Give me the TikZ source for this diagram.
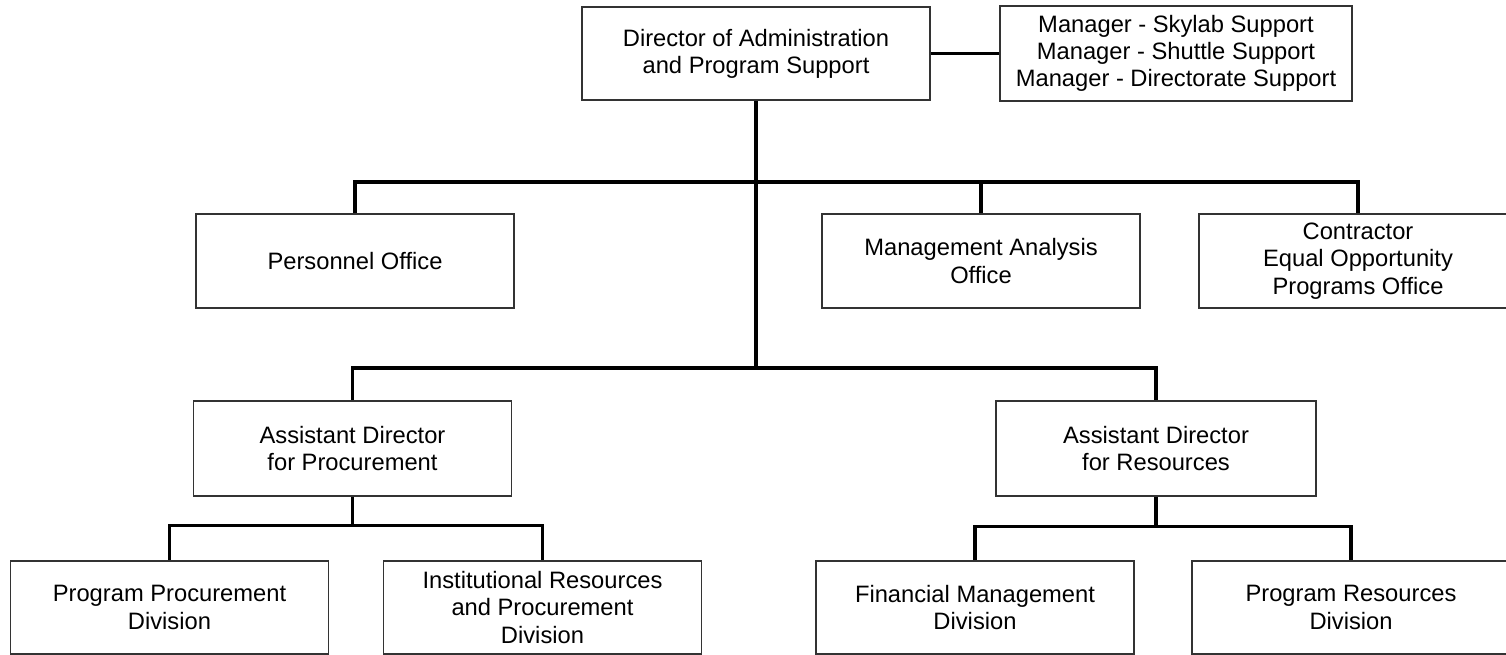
\documentclass[tikz,border=0pt]{standalone}
\usepackage{fontspec}
\setsansfont{Liberation Sans}
\usepackage{tikz}
\usetikzlibrary{positioning,calc}

\begin{document}
\begin{tikzpicture}[
  x=0.02cm, y=-0.02cm,
  font=\sffamily\fontsize{13.5}{15.5}\selectfont,
  unit/.style={draw=black!80, line width=1pt, fill=white, align=center,
               minimum width=6.36cm, minimum height=1.88cm, inner sep=4pt},
  link/.style={draw=black, line width=1.8pt},
]
  \useasboundingbox (0,0) rectangle (1506,655);

  % top level
  \node[unit, minimum width=6.96cm, minimum height=1.86cm] (dir) at (756,53.5)
    {Director of Administration\\and Program Support};
  \node[unit, minimum width=7.04cm, minimum height=1.9cm] (mgr) at (1176,53.5)
    {Manager - Skylab Support\\Manager - Shuttle Support\\Manager - Directorate Support};

  % staff offices
  \node[unit] (pers) at (355,261)  {Personnel Office};
  \node[unit] (mao)  at (981,261)  {Management Analysis\\Office};
  \node[unit] (ceo)  at (1358,261) {Contractor\\Equal Opportunity\\Programs Office};

  % assistant directors
  \node[unit, minimum height=1.9cm] (adp) at (352.5,448.5) {Assistant Director\\for Procurement};
  \node[unit, minimum width=6.4cm, minimum height=1.9cm] (adr) at (1156,448.5) {Assistant Director\\for Resources};

  % divisions
  \node[unit, minimum height=1.86cm] (ppd)  at (169.5,607.5) {Program Procurement\\Division};
  \node[unit, minimum height=1.86cm] (irpd) at (542.5,607.5) {Institutional Resources\\and Procurement\\Division};
  \node[unit, minimum height=1.86cm] (fmd)  at (975,607.5)   {Financial Management\\Division};
  \node[unit, minimum height=1.86cm] (prd)  at (1351,607.5)  {Program Resources\\Division};

  % bus bars
  \coordinate (bus1) at (756,182);
  \coordinate (bus2) at (756,368);

  \draw[link] (dir.east) -- (mgr.west);
  \draw[link] (dir.south) -- (bus2);
  \draw[link] (pers.north) |- (bus1) -| (ceo.north);
  \draw[link] (mao.north) -- (mao.north |- bus1);
  \draw[link] (adp.north) |- (bus2) -| (adr.north);

  \draw[link] (adp.south) -- ++(0,29) coordinate (pbus);
  \draw[link] (ppd.north) |- (pbus) -| (irpd.north);
  \draw[link] (adr.south) -- ++(0,30) coordinate (rbus);
  \draw[link] (fmd.north) |- (rbus) -| (prd.north);
\end{tikzpicture}
\end{document}
